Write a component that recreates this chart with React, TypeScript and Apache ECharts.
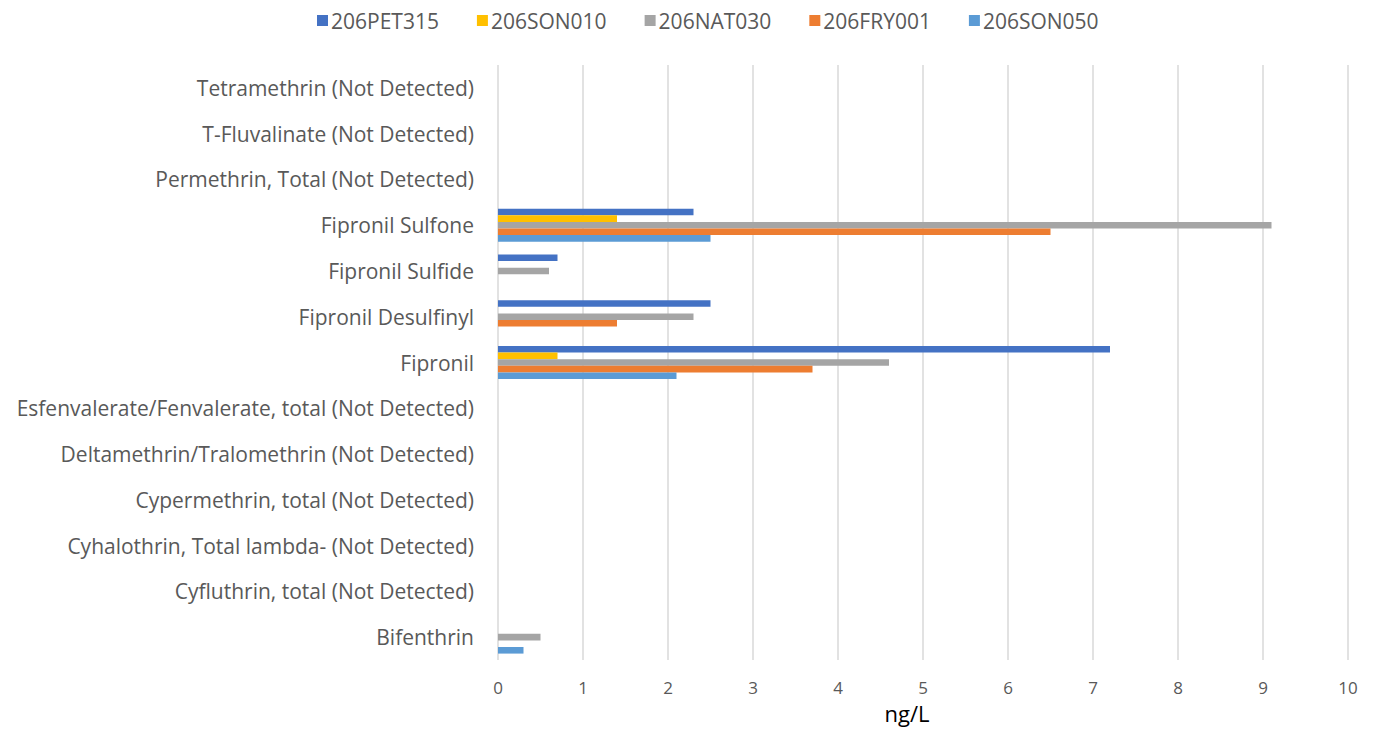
import React, { useEffect, useRef } from "react";
import * as echarts from "echarts";

const categories = [
  "Bifenthrin",
  "Cyfluthrin, total (Not Detected)",
  "Cyhalothrin, Total lambda- (Not Detected)",
  "Cypermethrin, total (Not Detected)",
  "Deltamethrin/Tralomethrin (Not Detected)",
  "Esfenvalerate/Fenvalerate, total (Not Detected)",
  "Fipronil",
  "Fipronil Desulfinyl",
  "Fipronil Sulfide",
  "Fipronil Sulfone",
  "Permethrin, Total (Not Detected)",
  "T-Fluvalinate (Not Detected)",
  "Tetramethrin (Not Detected)",
];

const seriesNames = ["206PET315", "206SON010", "206NAT030", "206FRY001", "206SON050"];
const seriesColors = ["#4472C4", "#FFC000", "#A5A5A5", "#ED7D31", "#5B9BD5"];

const pet315 = [null, null, null, null, null, null, 7.2, 2.5, 0.7, 2.3, null, null, null];
const son010 = [null, null, null, null, null, null, 0.7, null, null, 1.4, null, null, null];
const nat030 = [0.5, null, null, null, null, null, 4.6, 2.3, 0.6, 9.1, null, null, null];
const fry001 = [null, null, null, null, null, null, 3.7, 1.4, null, 6.5, null, null, null];
const son050 = [0.3, null, null, null, null, null, 2.1, null, null, 2.5, null, null, null];

const seriesData = [pet315, son010, nat030, fry001, son050];

const xTicks = [0, 1, 2, 3, 4, 5, 6, 7, 8, 9, 10];

const FONT = "'Open Sans', sans-serif";

export default function App() {
  const ref = useRef<HTMLDivElement>(null);
  useEffect(() => {
    if (!ref.current) return;
    const chart = echarts.init(ref.current, undefined, { renderer: "svg" });
    chart.setOption({
      animation: false,
      backgroundColor: "#ffffff",
      legend: {
        top: 5,
        left: 312,
        itemWidth: 11,
        itemHeight: 11,
        itemGap: 38,
        icon: "rect",
        textStyle: { fontFamily: FONT, fontSize: 21, color: "#595959", padding: [0, 0, 0, -2] },
        data: seriesNames,
      },
      grid: { left: 498, right: 29, top: 65, bottom: 69, containLabel: false },
      xAxis: {
        type: "value",
        min: xTicks[0],
        max: xTicks[xTicks.length - 1],
        interval: 1,
        axisLine: { show: false },
        axisTick: { show: false },
        axisLabel: {
          fontFamily: FONT,
          fontSize: 17,
          color: "#595959",
          margin: 19,
        },
        splitLine: { show: true, lineStyle: { color: "#D9D9D9", width: 1.5 } },
      },
      yAxis: {
        type: "category",
        data: categories,
        axisLine: { show: false },
        axisTick: { show: false },
        axisLabel: {
          fontFamily: FONT,
          fontSize: 21,
          color: "#595959",
          margin: 24,
        },
        splitLine: { show: false },
      },
      graphic: [
        {
          type: "text",
          x: 907,
          y: 713,
          style: {
            text: "ng/L",
            fontFamily: FONT,
            fontSize: 22,
            fill: "#000000",
            align: "center",
            verticalAlign: "middle",
          },
        },
      ],
      series: seriesNames.map((name, i) => ({
        name,
        type: "bar",
        data: seriesData[i],
        itemStyle: { color: seriesColors[i] },
        barGap: "0%",
        barCategoryGap: "28%",
      })),
    });
    return () => chart.dispose();
  }, []);
  return <div ref={ref} style={{ width: 1377, height: 729, position: "absolute", left: 0, top: 0 }} />;
}
